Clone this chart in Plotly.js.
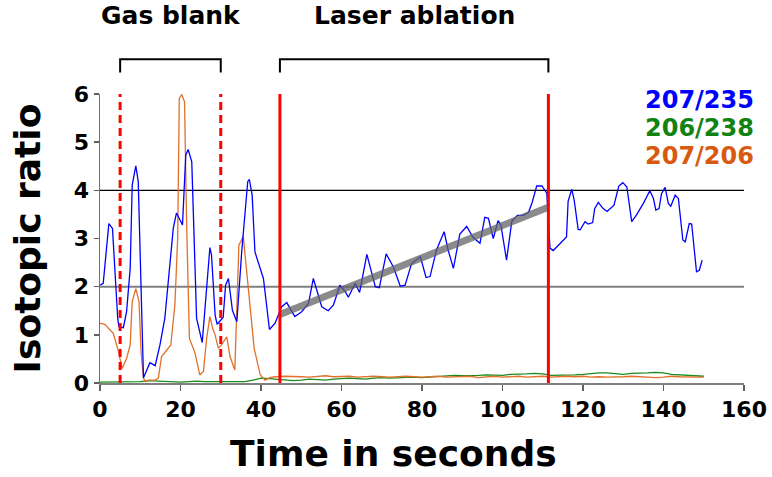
<!DOCTYPE html>
<html>
<head>
<meta charset="utf-8">
<script src="https://cdn.plot.ly/plotly-3.0.1.min.js"></script>
<style>html,body{margin:0;padding:0;background:#fff;}#chart{width:772px;height:477px;}</style>
</head>
<body>
<div id="chart"></div>
<script>
// 207/235 ratio (blue)
const blueT = [0,0.8,2.2,3.1,4.4,4.7,5.8,6.6,7.5,8.0,8.9,9.5,10.8,12.4,13.7,14.9,16.1,18.2,19.0,20.5,21.3,21.9,22.8,24.0,25.4,26.5,27.3,27.7,28.6,29.1,30.6,31.2,31.9,32.9,34.0,35.2,36.7,37.1,37.8,38.5,40.6,42.1,43.5,45.1,46.4,48.4,50.1,51.8,53.0,55.1,56.7,58.0,59.6,60.9,61.7,63.4,64.5,66.3,68.4,69.4,71.1,72.9,74.6,75.8,77.4,79.6,81.0,82.0,83.6,85.5,86.5,87.8,89.4,91.1,92.7,94.4,95.6,96.5,97.7,98.9,99.6,101.0,102.3,103.7,105.2,106.5,107.3,108.5,109.8,111.0,111.8,112.6,115.9,116.3,117.2,117.8,118.8,119.3,120.5,121.3,122.4,122.9,123.8,125.0,126.0,127.7,128.9,129.9,130.9,132.1,133.3,135.0,136.6,137.5,138.1,138.9,139.5,140.4,141.2,141.8,142.9,143.7,144.8,145.4,146.4,147.0,148.2,148.9,149.6];
const blueV = [2.03,2.07,3.31,3.21,1.34,1.17,1.15,1.48,2.38,4.11,4.51,4.18,0.11,0.42,0.36,0.79,1.34,3.21,3.53,3.28,4.73,4.85,4.59,1.34,0.84,1.89,2.81,2.66,1.41,1.22,1.36,2.03,2.17,1.51,1.27,2.72,4.18,4.23,3.90,2.72,2.17,1.11,1.24,1.58,1.67,1.38,1.48,1.65,2.17,1.58,1.50,1.62,2.03,1.90,1.78,2.07,1.88,2.67,2.00,1.98,2.68,2.41,2.01,2.03,2.48,2.62,2.19,2.21,2.76,3.14,2.76,2.38,3.09,3.25,3.02,2.90,3.44,3.42,3.00,3.37,3.28,2.55,3.35,3.48,3.48,3.55,3.73,4.09,4.09,3.94,2.80,2.75,3.03,3.77,4.02,3.80,3.19,3.18,3.35,3.30,3.33,3.62,3.75,3.62,3.56,3.69,4.09,4.16,4.07,3.35,3.49,3.73,3.99,3.83,3.59,3.62,3.93,4.06,3.73,3.67,3.90,3.83,2.97,2.93,3.31,3.30,2.31,2.34,2.55];

// 206/238 ratio (green)
const greenT = [0,2,4,6,8,10,12,14,16,18,20,22,24,26,28,30,32,34,36,38,40,42,44,46,48,50,52,54,56,58,60,62,64,66,68,70,72,74,76,78,80,82,84,86,88,90,92,94,96,98,100,102,104,106,108,110,112,114,116,118,120,122,124,126,128,130,132,134,136,138,140,142,144,146,148,150];
const greenV = [0.02,0.02,0.03,0.03,0.02,0.03,0.05,0.04,0.03,0.02,0.02,0.03,0.04,0.03,0.03,0.02,0.02,0.02,0.03,0.06,0.10,0.09,0.08,0.06,0.05,0.06,0.08,0.07,0.06,0.08,0.09,0.10,0.09,0.08,0.10,0.11,0.10,0.11,0.12,0.12,0.11,0.12,0.13,0.15,0.16,0.15,0.15,0.16,0.17,0.16,0.16,0.18,0.18,0.19,0.20,0.19,0.16,0.16,0.17,0.17,0.18,0.20,0.21,0.21,0.19,0.18,0.20,0.20,0.21,0.22,0.21,0.18,0.17,0.15,0.15,0.14];

// 207/206 ratio (orange)
const orangeT = [0,1.2,3.3,4.6,5.5,6.6,7.5,8.0,8.9,9.7,10.2,10.8,11.3,12.0,13.7,14.5,15.3,16.6,17.6,18.6,19.3,19.7,20.3,21.0,21.5,22.2,23.6,24.8,25.7,26.5,27.3,28.0,28.6,29.4,30.2,31.5,32.3,33.5,34.5,35.6,36.9,38.3,39.8,41.0,42.2,43.5,46,48,50,52,54,56,58,60,62,64,66,68,70,72,74,76,78,80,82,84,86,88,90,92,94,96,98,100,102,104,106,108,110,112,114,116,118,120,122,124,126,128,130,132,134,136,138,140,142,144,146,148,150];
const orangeV = [1.24,1.22,1.03,0.65,0.30,0.51,0.79,1.69,1.96,1.69,0.65,0.10,0.03,0.06,0.06,0.10,0.55,0.68,0.79,1.62,3.00,5.91,5.99,5.84,3.42,0.93,0.62,0.17,0.24,0.93,1.38,1.13,1.00,0.72,0.79,0.96,0.55,0.27,2.86,3.04,1.96,0.72,0.17,0.06,0.11,0.13,0.14,0.14,0.13,0.12,0.13,0.15,0.13,0.13,0.14,0.12,0.13,0.14,0.13,0.12,0.13,0.14,0.13,0.12,0.13,0.14,0.12,0.13,0.13,0.14,0.11,0.13,0.14,0.12,0.13,0.14,0.12,0.13,0.14,0.12,0.13,0.14,0.13,0.14,0.12,0.13,0.12,0.12,0.13,0.14,0.13,0.12,0.11,0.12,0.14,0.13,0.12,0.12,0.12];

// regression fit over the ablation window
const fitT = [44.7, 111.4];
const fitV = [1.42, 3.65];

// markers of intervals
const blankStart = 5, blankEnd = 30;
const ablStart = 44.7, ablEnd = 111.4;

const seriesNames = ['207/235', '206/238', '207/206'];
const xTicks = [0,20,40,60,80,100,120,140,160];
const yTicks = [0,1,2,3,4,5,6];

const F = 'DejaVu Sans, Verdana, sans-serif';
const BLUE = '#0000ff', GREEN = '#1a8a1a', ORANGE = '#e0702a';

const traces = [
  {x: greenT, y: greenV, name: seriesNames[1], mode: 'lines', line: {color: GREEN, width: 1.3}},
  {x: orangeT, y: orangeV, name: seriesNames[2], mode: 'lines', line: {color: ORANGE, width: 1.3}},
  {x: blueT, y: blueV, name: seriesNames[0], mode: 'lines', line: {color: BLUE, width: 1.3}},
  {x: fitT, y: fitV, name: 'fit', mode: 'lines', line: {color: 'rgba(100,100,100,0.75)', width: 7}}
];

const redDash = {color: '#ff0000', width: 3, dash: '8px,5px'};
const redSolid = {color: '#ff0000', width: 3};

const shapes = [
  {type: 'line', xref: 'paper', yref: 'y', x0: 0, x1: 1, y0: 4, y1: 4, line: {color: '#000', width: 1.2}, layer: 'below'},
  {type: 'line', xref: 'paper', yref: 'y', x0: 0, x1: 1, y0: 2, y1: 2, line: {color: '#808080', width: 2}, layer: 'below'},
  {type: 'line', xref: 'x', yref: 'y', x0: blankStart, x1: blankStart, y0: 0, y1: 6, line: redDash, layer: 'above'},
  {type: 'line', xref: 'x', yref: 'y', x0: blankEnd, x1: blankEnd, y0: 0, y1: 6, line: redDash, layer: 'above'},
  {type: 'line', xref: 'x', yref: 'y', x0: ablStart, x1: ablStart, y0: 0, y1: 6, line: redSolid, layer: 'above'},
  {type: 'line', xref: 'x', yref: 'y', x0: ablEnd, x1: ablEnd, y0: 0, y1: 6, line: redSolid, layer: 'above'},
  {type: 'path', xref: 'x', yref: 'paper', path: `M ${blankStart},1.074 L ${blankStart},1.120 L ${blankEnd},1.120 L ${blankEnd},1.074`, line: {color: '#000', width: 2}},
  {type: 'path', xref: 'x', yref: 'paper', path: `M ${ablStart},1.074 L ${ablStart},1.120 L ${ablEnd},1.120 L ${ablEnd},1.074`, line: {color: '#000', width: 2}}
];

const bold = (size, color) => ({family: F, size: size, color: color || '#000', weight: 'bold'});

const annotations = [
  {text: 'Gas blank', xref: 'x', yref: 'paper', x: 17.6, y: 1.272, xanchor: 'center', yanchor: 'middle', showarrow: false, font: bold(25)},
  {text: 'Laser ablation', xref: 'x', yref: 'paper', x: 78.2, y: 1.272, xanchor: 'center', yanchor: 'middle', showarrow: false, font: bold(25)},
  {text: seriesNames[0], xref: 'paper', yref: 'paper', x: 1.018, y: 0.979, xanchor: 'right', yanchor: 'middle', showarrow: false, font: bold(24, BLUE)},
  {text: seriesNames[1], xref: 'paper', yref: 'paper', x: 1.018, y: 0.882, xanchor: 'right', yanchor: 'middle', showarrow: false, font: bold(24, '#128212')},
  {text: seriesNames[2], xref: 'paper', yref: 'paper', x: 1.018, y: 0.785, xanchor: 'right', yanchor: 'middle', showarrow: false, font: bold(24, '#d85a10')},
  {text: 'Time in seconds', xref: 'paper', yref: 'paper', x: 0.455, y: -0.245, xanchor: 'center', yanchor: 'middle', showarrow: false, font: bold(36)}
];

const layout = {
  width: 772, height: 477,
  margin: {l: 100, r: 28, t: 94, b: 94, pad: 0},
  paper_bgcolor: '#fff', plot_bgcolor: '#fff',
  showlegend: false,
  xaxis: {
    range: [0, 160], tickvals: xTicks, ticktext: xTicks.map(String),
    showgrid: false, zeroline: false, showline: true, linecolor: '#808080', linewidth: 2,
    ticks: 'outside', ticklen: 6, tickwidth: 1.5, tickcolor: '#606060',
    tickfont: bold(22)
  },
  yaxis: {
    range: [0, 6], tickvals: yTicks, ticktext: yTicks.map(String),
    showgrid: false, zeroline: false, showline: true, linecolor: '#707070', linewidth: 1.5,
    ticks: 'outside', ticklen: 5, tickwidth: 1.5, tickcolor: '#606060',
    tickfont: bold(22),
    title: {text: 'Isotopic ratio', font: bold(36), standoff: 22}
  },
  shapes: shapes,
  annotations: annotations
};

Plotly.newPlot('chart', traces, layout, {displayModeBar: false, staticPlot: true});
</script>
</body>
</html>
